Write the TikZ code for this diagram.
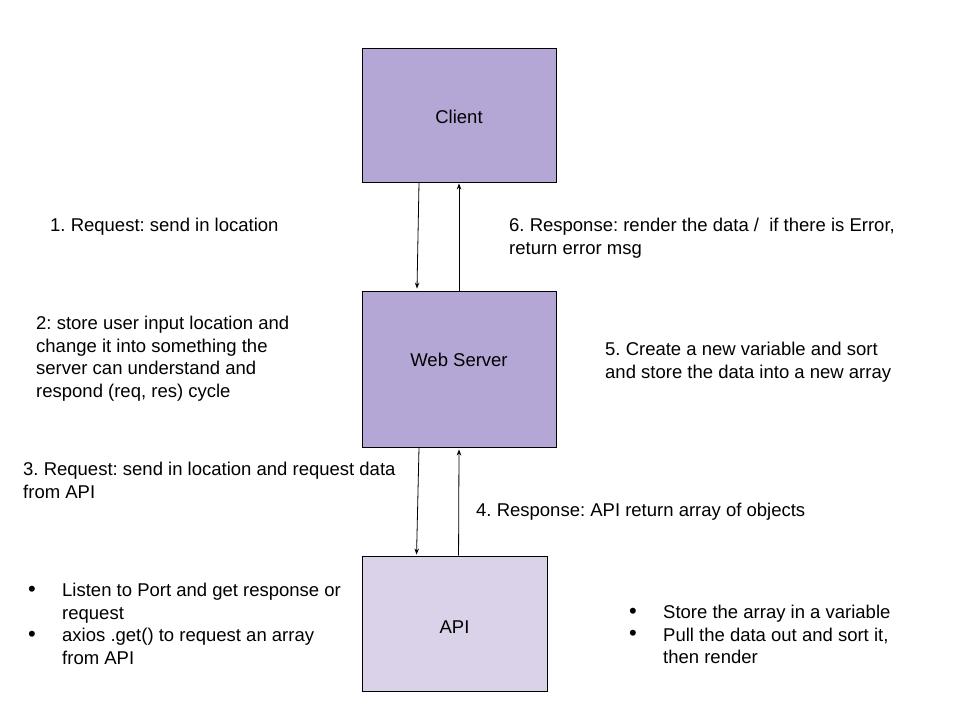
\documentclass[tikz,border=0pt]{standalone}
\usepackage{fontspec}
\setmainfont{Liberation Sans}
\usetikzlibrary{arrows.meta,calc}
\definecolor{boxdark}{HTML}{B4A7D6}
\definecolor{boxlight}{HTML}{D9D2E9}
\frenchspacing
\tikzset{
  box/.style={draw=black, line width=0.9pt, font=\fontsize{18.5}{22}\selectfont},
  txt/.style={anchor=north west, inner sep=0pt, align=left, font=\fontsize{18.5}{22.5}\selectfont},
  arr/.style={line width=0.8pt, -{Stealth[length=6pt,width=4.5pt]}},
}
\newcommand{\bul}{\makebox[34pt][l]{\raisebox{0.5pt}{\fontsize{22}{22}\selectfont•}}}
\newcommand{\ind}{\hspace*{34pt}}
\begin{document}
\begin{tikzpicture}[x=1pt,y=-1pt]
\useasboundingbox (0,0) rectangle (960,720);
\fill[white] (0,0) rectangle (960,720);
\node[box, fill=boxdark, minimum width=194pt, minimum height=134pt, text height=17.5pt, text depth=0pt] (client) at (459,115) {Client};
\node[box, fill=boxdark, minimum width=194pt, minimum height=156pt,
  label={[font=\fontsize{18.5}{22}\selectfont, yshift=9pt]center:Web Server}] (web) at (459,369) {};
\node[box, fill=boxlight, minimum width=185pt, minimum height=135pt, text height=19pt, text depth=0pt] (api) at (454.5,623.5) {API};

\draw[arr] ($(client.south)+(-40,0)$) -- ($(web.north)+(-42,-2)$);
\draw[arr] ($(web.north)+(0,0)$) -- ($(client.south)+(0,1)$);
\draw[arr] ($(web.south)+(-40,0)$) -- ($(api.south west |- api.north)+(55,-1)$);
\draw[arr] ($(api.south west |- api.north)+(97,0)$) -- ($(web.south)+(0,2)$);

\node[txt] (t1) at (50,218) {1. Request: send in location};
\node[txt] (t6) at (509,218) {6. Response: render the data /\ \ if there is Error,\\return error msg};
\node[txt] (t2) at (36,316) {2: store user input location and\\change it into something the\\server can understand and\\respond (req, res) cycle};
\node[txt] (t5) at (605,342) {5. Create a new variable and sort\\and store the data into a new array};
\node[txt] (t3) at (23,462) {3. Request: send in location and request data\\from API};
\node[txt] (t4) at (476,503) {4. Response: API return array of objects};
\node[txt] (bl) at (28,583) {\bul Listen to Port and get response or\\\ind request\\\bul axios .get() to request an array\\\ind from API};
\node[txt] (br) at (629,605) {\bul Store the array in a variable\\\bul Pull the data out and sort it,\\\ind then render};
\end{tikzpicture}
\end{document}
